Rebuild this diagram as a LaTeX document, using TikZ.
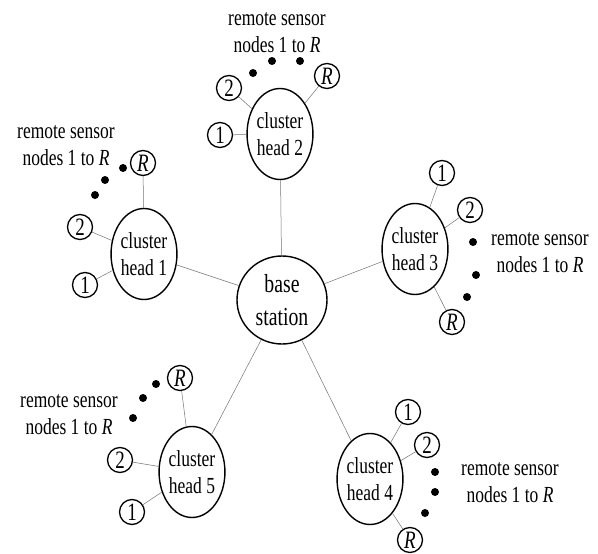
\documentclass[tikz,border=0pt]{standalone}
\usepackage{fontspec}
\setmainfont{Liberation Serif}[FakeStretch=0.76]
\usetikzlibrary{shapes.geometric}
\begin{document}
\begin{tikzpicture}[x=1pt, y=-1pt,
    head/.style={ellipse, draw, line width=1.4pt, inner sep=0pt, minimum width=61, minimum height=91, align=center, font=\fontsize{23}{27}\selectfont},
    base/.style={ellipse, draw, line width=1.4pt, inner sep=0pt, minimum width=90, minimum height=88, align=center, font=\fontsize{26}{33}\selectfont},
    sensor/.style={circle, draw, line width=1.3pt, inner sep=0pt, minimum size=25, font=\fontsize{25}{25}\selectfont},
    dot/.style={circle, fill, inner sep=0pt, minimum size=8},
    lbl/.style={align=center, font=\fontsize{23}{27}\selectfont},
    link/.style={draw=black!55, line width=0.5pt}]
  \useasboundingbox (0,0) rectangle (598,554);
  % base station
  \node[base] (bs) at (282,300) {base\\station};
  % cluster heads
  \node[head] (ch1) at (144,254) {cluster\\head 1};
  \node[head] (ch2) at (280,134) {cluster\\head 2};
  \node[head] (ch3) at (415,249) {cluster\\head 3};
  \node[head] (ch4) at (370,479) {cluster\\head 4};
  \node[head] (ch5) at (192,472) {cluster\\head 5};
  \draw[link](bs) -- (ch1);
  \draw[link](bs) -- (ch2);
  \draw[link](bs) -- (ch3);
  \draw[link](bs) -- (ch4);
  \draw[link](bs) -- (ch5);
  % cluster 1
  \node[sensor] (sn1a) at (85,285) {1};
  \node[sensor] (sn1b) at (80,227) {2};
  \node[sensor] (sn1r) at (143,163) {\textit{R}};
  \node[dot] (dt1a) at (95,195) {};
  \node[dot] (dt1b) at (105,180) {};
  \node[dot] (dt1c) at (123,168) {};
  \node[lbl] (tx1) at (66,146) {remote sensor\\nodes 1 to \textit{R}};
  \draw[link](sn1a) -- (ch1);
  \draw[link](sn1b) -- (ch1);
  \draw[link](sn1r) -- (ch1);
  % cluster 2
  \node[sensor] (sn2a) at (220,135) {1};
  \node[sensor] (sn2b) at (229,88) {2};
  \node[sensor] (sn2r) at (327,76) {\textit{R}};
  \node[dot] (dt2a) at (253,73) {};
  \node[dot] (dt2b) at (272,61) {};
  \node[dot] (dt2c) at (300,61) {};
  \node[lbl] (tx2) at (277,33) {remote sensor\\nodes 1 to \textit{R}};
  \draw[link](sn2a) -- (ch2);
  \draw[link](sn2b) -- (ch2);
  \draw[link](sn2r) -- (ch2);
  % cluster 3
  \node[sensor] (sn3a) at (442,173) {1};
  \node[sensor] (sn3b) at (470,210) {2};
  \node[sensor] (sn3r) at (452,322) {\textit{R}};
  \node[dot] (dt3a) at (473,242) {};
  \node[dot] (dt3b) at (476,275) {};
  \node[dot] (dt3c) at (467,297) {};
  \node[lbl] (tx3) at (540,253) {remote sensor\\nodes 1 to \textit{R}};
  \draw[link](sn3a) -- (ch3);
  \draw[link](sn3b) -- (ch3);
  \draw[link](sn3r) -- (ch3);
  % cluster 4
  \node[sensor] (sn4a) at (408,412) {1};
  \node[sensor] (sn4b) at (427,445) {2};
  \node[sensor] (sn4r) at (410,540) {\textit{R}};
  \node[dot] (dt4a) at (435,472) {};
  \node[dot] (dt4b) at (435,492) {};
  \node[dot] (dt4c) at (425,513) {};
  \node[lbl] (tx4) at (510,483) {remote sensor\\nodes 1 to \textit{R}};
  \draw[link](sn4a) -- (ch4);
  \draw[link](sn4b) -- (ch4);
  \draw[link](sn4r) -- (ch4);
  % cluster 5
  \node[sensor] (sn5a) at (132,512) {1};
  \node[sensor] (sn5b) at (120,460) {2};
  \node[sensor] (sn5r) at (180,378) {\textit{R}};
  \node[dot] (dt5a) at (133,418) {};
  \node[dot] (dt5b) at (143,398) {};
  \node[dot] (dt5c) at (156,384) {};
  \node[lbl] (tx5) at (69,415) {remote sensor\\nodes 1 to \textit{R}};
  \draw[link](sn5a) -- (ch5);
  \draw[link](sn5b) -- (ch5);
  \draw[link](sn5r) -- (ch5);
\end{tikzpicture}
\end{document}
